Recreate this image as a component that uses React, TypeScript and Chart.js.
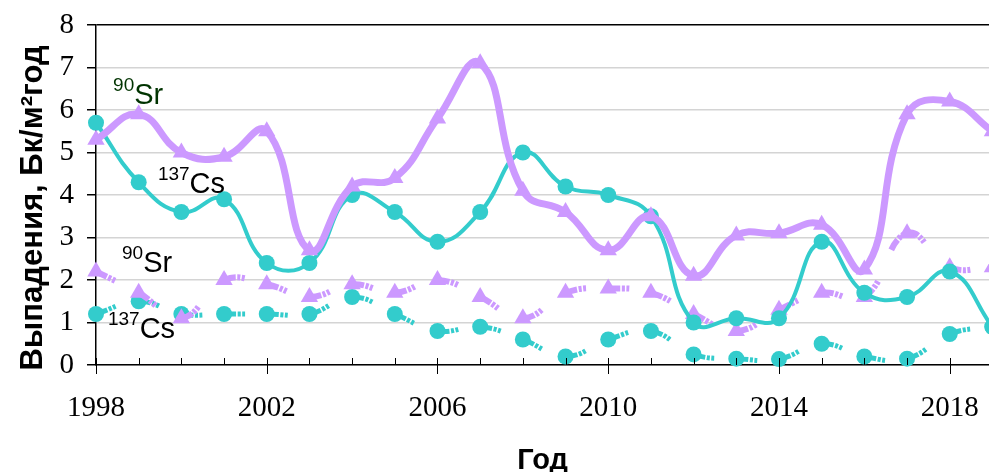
import React, { useEffect, useRef } from "react";
import { Chart, registerables } from "chart.js";

Chart.register(...registerables);

const years = [1998, 1999, 2000, 2001, 2002, 2003, 2004, 2005, 2006, 2007, 2008, 2009, 2010, 2011, 2012, 2013, 2014, 2015, 2016, 2017, 2018, 2019];
const sr90Upper = [5.3, 5.9, 5.0, 4.9, 5.5, 2.7, 4.2, 4.4, 5.8, 7.1, 4.1, 3.6, 2.7, 3.5, 2.1, 3.05, 3.1, 3.3, 2.25, 5.9, 6.2, 5.5];
const cs137Upper = [5.7, 4.3, 3.6, 3.9, 2.4, 2.4, 4.0, 3.6, 2.9, 3.6, 5.0, 4.2, 4.0, 3.5, 1.0, 1.1, 1.1, 2.9, 1.7, 1.6, 2.2, 0.9];
const sr90Lower = [2.2, 1.7, 1.1, 2.0, 1.9, 1.6, 1.9, 1.7, 2.0, 1.6, 1.1, 1.7, 1.8, 1.7, 1.2, 0.8, 1.3, 1.7, 1.6, 3.1, 2.3, 2.3];
const cs137Lower = [1.2, 1.5, 1.2, 1.2, 1.2, 1.2, 1.6, 1.2, 0.8, 0.9, 0.6, 0.2, 0.6, 0.8, 0.25, 0.15, 0.14, 0.5, 0.2, 0.15, 0.73, 0.9];
const xTickYears = [1998, 2002, 2006, 2010, 2014, 2018];
const yTicks = [0, 1, 2, 3, 4, 5, 6, 7, 8];

const yTitle = "Выпадения, Бк/м²год   ";
const xTitle = "Год";

// series annotations: [superscript, symbol, year (left edge), value (baseline), colour]
const annotations = [
  { sup: "90", main: "Sr", x: 1998.4, y: 6.14, color: "#003300" },
  { sup: "137", main: "Cs", x: 1999.45, y: 4.05, color: "#000000" },
  { sup: "90", main: "Sr", x: 1998.61, y: 2.19, color: "#000000" },
  { sup: "137", main: "Cs", x: 1998.28, y: 0.64, color: "#000000" },
];

const PURPLE = "#cc99ff";
const TEAL = "#33cccc";
const SANS = "'Liberation Sans', Arial, sans-serif";
const SERIF = "'Liberation Serif', 'Times New Roman', serif";

const toXY = (arr: number[]) => years.map((x, i) => ({ x, y: arr[i] }));

const segmentReset = {
  borderDashOffset: (ctx: any) => (ctx.p0DataIndex % 2) * 0.001,
};

const annotationPlugin = {
  id: "seriesLabels",
  afterDatasetsDraw(chart: any) {
    const { ctx, scales } = chart;
    const xs = scales.x;
    const ys = scales.y;
    ctx.save();
    ctx.textBaseline = "alphabetic";
    ctx.textAlign = "left";
    for (const a of annotations) {
      const px = xs.getPixelForValue(a.x);
      const py = ys.getPixelForValue(a.y);
      ctx.fillStyle = a.color;
      ctx.font = `19px ${SANS}`;
      ctx.fillText(a.sup, px, py - 13);
      const w = ctx.measureText(a.sup).width;
      ctx.font = `29px ${SANS}`;
      ctx.fillText(a.main, px + w, py);
    }
    ctx.restore();
  },
};

const xTickMarksPlugin = {
  id: "xTickMarks",
  afterDraw(chart: any) {
    const { ctx, scales, chartArea } = chart;
    const xs = scales.x;
    const bottom = chartArea.bottom;
    ctx.save();
    ctx.strokeStyle = "#000";
    ctx.lineWidth = 1;
    for (const yr of years) {
      const px = Math.round(xs.getPixelForValue(yr)) + 0.5;
      if (px > chartArea.right + 1) continue;
      const major = xTickYears.includes(yr);
      ctx.beginPath();
      ctx.moveTo(px, bottom - 7);
      ctx.lineTo(px, major ? bottom + 9 : bottom);
      ctx.stroke();
    }
    ctx.restore();
  },
};

export default function App() {
  const ref = useRef<HTMLCanvasElement | null>(null);

  useEffect(() => {
    if (!ref.current) return;
    const chart = new Chart(ref.current, {
      type: "line",
      data: {
        datasets: [
          {
            label: "90Sr",
            data: toXY(sr90Upper),
            borderColor: PURPLE,
            backgroundColor: PURPLE,
            borderWidth: 7,
            pointStyle: "triangle",
            pointRadius: 10,
            pointBorderWidth: 0,
            tension: 0.45,
            clip: false,
          },
          {
            label: "137Cs",
            data: toXY(cs137Upper),
            borderColor: TEAL,
            backgroundColor: TEAL,
            borderWidth: 4,
            pointStyle: "circle",
            pointRadius: 8,
            pointBorderWidth: 0,
            tension: 0.45,
            clip: false,
          },
          {
            label: "90Sr (2)",
            data: toXY(sr90Lower),
            borderColor: PURPLE,
            backgroundColor: PURPLE,
            borderWidth: 6,
            borderDash: [12, 1.5, 3, 1.5, 3, 34],
            borderCapStyle: "butt",
            segment: segmentReset,
            pointStyle: "triangle",
            pointRadius: 10,
            pointBorderWidth: 0,
            tension: 0.45,
            clip: false,
          },
          {
            label: "137Cs (2)",
            data: toXY(cs137Lower),
            borderColor: TEAL,
            backgroundColor: TEAL,
            borderWidth: 5,
            borderDash: [12, 1.5, 3, 1.5, 3, 34],
            borderCapStyle: "butt",
            segment: segmentReset,
            pointStyle: "circle",
            pointRadius: 8,
            pointBorderWidth: 0,
            tension: 0.45,
            clip: false,
          },
        ],
      },
      options: {
        responsive: false,
        animation: false,
        events: [],
        layout: { autoPadding: false, padding: { top: 25, right: 0, bottom: 0, left: 0 } },
        plugins: {
          legend: { display: false },
          tooltip: { enabled: false },
        },
        scales: {
          x: {
            type: "linear",
            min: 1998,
            max: 2018.92,
            afterBuildTicks: (scale: any) => {
              scale.ticks = xTickYears.map((v) => ({ value: v }));
            },
            afterFit: (scale: any) => {
              scale.height = 107;
              scale.paddingLeft = 0;
              scale.paddingRight = 0;
              scale.paddingTop = 0;
              scale.paddingBottom = 0;
            },
            grid: { display: false, drawOnChartArea: false, drawTicks: false },
            border: { display: true, color: "#000", width: 1.5 },
            ticks: {
              padding: 25.5,
              maxRotation: 0,
              autoSkip: false,
              color: "#000",
              font: { family: SERIF, size: 29 },
              callback: (v: any) => String(v),
            },
            title: {
              display: true,
              text: xTitle,
              color: "#000",
              font: { family: SANS, size: 29, weight: "bold" },
              padding: { top: 0, bottom: -6.5 },
            },
          },
          y: {
            type: "linear",
            min: 0,
            max: 8,
            afterBuildTicks: (scale: any) => {
              scale.ticks = yTicks.map((v) => ({ value: v }));
            },
            afterFit: (scale: any) => {
              scale.width = 96;
              scale.paddingLeft = 0;
              scale.paddingRight = 0;
              scale.paddingTop = 0;
              scale.paddingBottom = 0;
            },
            grid: {
              color: (c: any) => (c.tick && c.tick.value === 8 ? "#000" : "#d4d4d4"),
              lineWidth: 1.5,
              tickColor: "#000",
              tickLength: 9,
              drawTicks: true,
            },
            border: { display: true, color: "#000", width: 1.5 },
            ticks: {
              padding: 13,
              color: "#000",
              font: { family: SERIF, size: 29 },
            },
            title: {
              display: true,
              text: yTitle,
              color: "#000",
              font: { family: SANS, size: 31, weight: "bold" },
              padding: { top: 14.5, bottom: 0 },
            },
          },
        },
      },
      plugins: [annotationPlugin, xTickMarksPlugin],
    } as any);
    return () => chart.destroy();
  }, []);

  return (
    <div style={{ position: "fixed", left: 0, top: 0, width: 989, height: 472, background: "#fff" }}>
      <canvas ref={ref} width={989} height={472} style={{ display: "block" }} />
    </div>
  );
}
